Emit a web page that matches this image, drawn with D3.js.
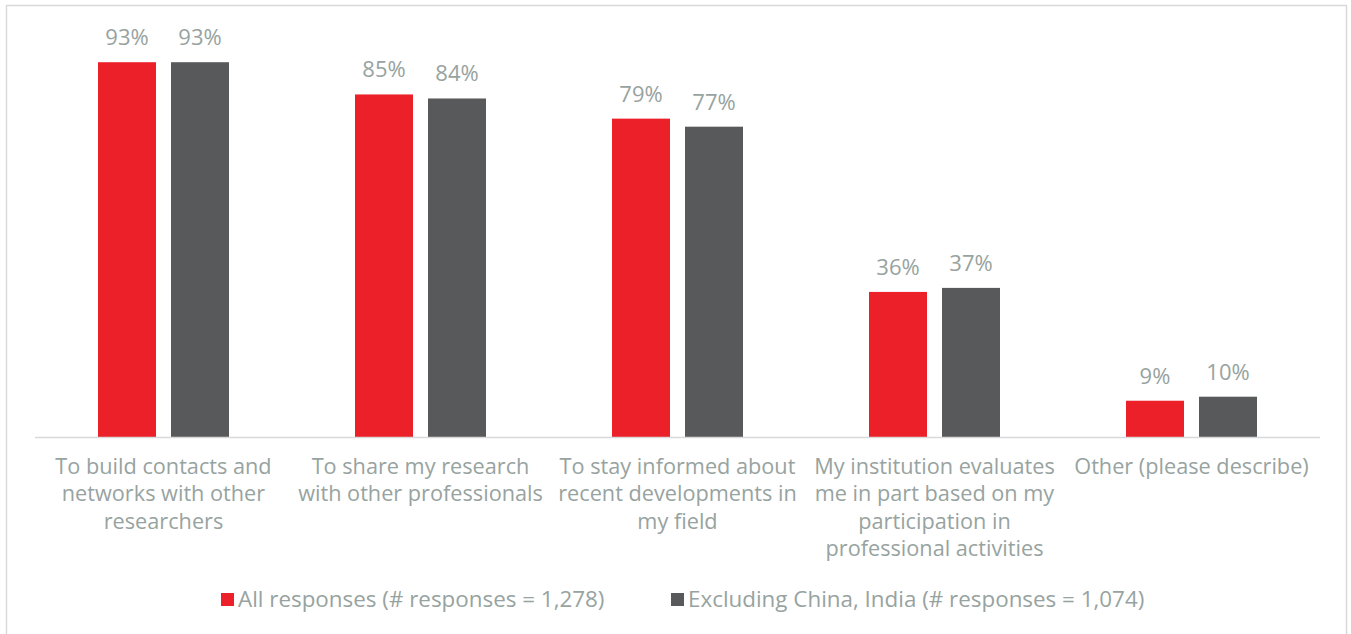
<!DOCTYPE html>
<html>
<head>
<meta charset="utf-8">
<script src="https://cdn.jsdelivr.net/npm/d3@7"></script>
<style>
  html, body { margin: 0; padding: 0; background: #fff; }
  svg { display: block; }
  text { font-family: "Open Sans", "Liberation Sans", Arial, sans-serif; fill: #97a3a0; }
</style>
</head>
<body>
<svg id="chart" width="1351" height="634"></svg>
<script>
// Reasons for taking part in professional activities
const categories = [
  ["To build contacts and", "networks with other", "researchers"],
  ["To share my research", "with other professionals"],
  ["To stay informed about", "recent developments in", "my field"],
  ["My institution evaluates", "me in part based on my", "participation in", "professional activities"],
  ["Other (please describe)"]
];
const seriesNames = [
  "All responses (# responses = 1,278)",
  "Excluding China, India (# responses = 1,074)"
];
const allResponses = [93, 85, 79, 36, 9];
const excludingChinaIndia = [93, 84, 77, 37, 10];
const seriesColors = ["#ec2028", "#58595b"];

const svg = d3.select("#chart");

// Outer frame
svg.append("rect")
  .attr("x", 6.5).attr("y", 5.5)
  .attr("width", 1340).attr("height", 640)
  .attr("fill", "#fff").attr("stroke", "#d9d9d9").attr("stroke-width", 1.5);

const plot = { left: 35, right: 1320, top: 34, bottom: 437 };

const x0 = d3.scaleBand()
  .domain(d3.range(categories.length))
  .range([plot.left, plot.right])
  .paddingInner(0).paddingOuter(0);

const groupWidth = 131;
const x1 = d3.scaleBand()
  .domain([0, 1])
  .range([0, groupWidth])
  .paddingInner(15 / 73);

const y = d3.scaleLinear().domain([0, 100]).range([plot.bottom, plot.top]);

const series = [allResponses, excludingChinaIndia];

const groups = svg.append("g").selectAll("g")
  .data(categories.map((c, i) => i))
  .join("g")
  .attr("transform", i => `translate(${x0(i) + (x0.bandwidth() - groupWidth) / 2},0)`);

groups.selectAll("rect")
  .data(i => series.map((s, k) => ({ k, v: s[i] })))
  .join("rect")
  .attr("x", d => x1(d.k))
  .attr("width", x1.bandwidth())
  .attr("y", d => y(d.v))
  .attr("height", d => y(0) - y(d.v))
  .attr("fill", d => seriesColors[d.k]);

groups.selectAll("text.val")
  .data(i => series.map((s, k) => ({ k, v: s[i] })))
  .join("text")
  .attr("class", "val")
  .attr("x", d => x1(d.k) + x1.bandwidth() / 2)
  .attr("y", d => y(d.v) - 17)
  .attr("text-anchor", "middle")
  .attr("font-size", 22)
  .text(d => d.v + "%");

// Baseline
svg.append("line")
  .attr("x1", plot.left).attr("x2", plot.right)
  .attr("y1", plot.bottom + 0.5).attr("y2", plot.bottom + 0.5)
  .attr("stroke", "#d9d9d9").attr("stroke-width", 1.5);

// Category labels
const labels = svg.append("g").selectAll("text")
  .data(categories)
  .join("text")
  .attr("text-anchor", "middle")
  .attr("font-size", 21.7)
  .attr("x", (d, i) => x0(i) + x0.bandwidth() / 2)
  .attr("y", 474);
labels.selectAll("tspan")
  .data(d => d)
  .join("tspan")
  .attr("x", function () { return this.parentNode.getAttribute("x"); })
  .attr("dy", (d, i) => i === 0 ? 0 : 27.4)
  .text(d => d);

// Legend
const legendItems = [
  { name: seriesNames[0], color: seriesColors[0], x: 221 },
  { name: seriesNames[1], color: seriesColors[1], x: 671 }
];
const lg = svg.append("g").selectAll("g")
  .data(legendItems)
  .join("g")
  .attr("transform", d => `translate(${d.x},593)`);
lg.append("rect").attr("width", 13).attr("height", 13).attr("fill", d => d.color);
lg.append("text").attr("x", 17).attr("y", 14).attr("font-size", 22.4).text(d => d.name);
</script>
</body>
</html>
